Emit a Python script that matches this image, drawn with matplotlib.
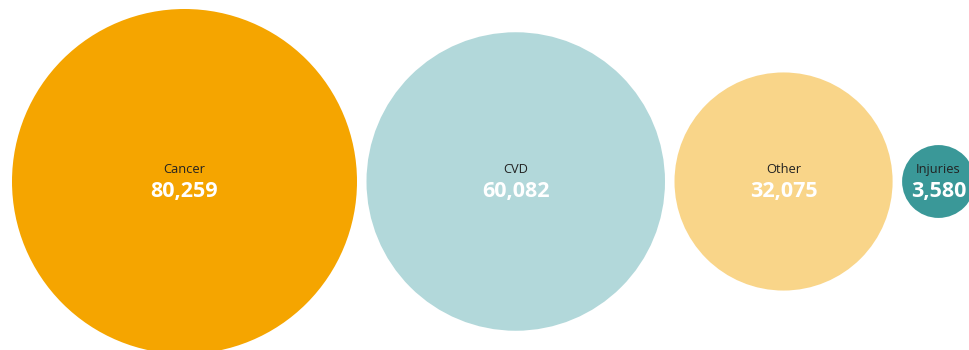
import matplotlib.pyplot as plt
from matplotlib.patches import Circle
import numpy as np

categories = ["Cancer", "CVD", "Other", "Injuries"]
values = [80259, 60082, 32075, 3580]
colors = ["#F5A500", "#B2D8DA", "#F9D589", "#3A9898"]

plt.rcParams['font.family'] = ['Open Sans', 'DejaVu Sans']

fig = plt.figure(figsize=(9.7, 3.5), dpi=100)
ax = fig.add_axes([0, 0, 1, 1])
ax.set_xlim(0, 970)
ax.set_ylim(350, 0)
ax.set_aspect('equal')
ax.axis('off')

# circle area proportional to value
max_r = 172.5
radii = max_r * np.sqrt(np.array(values) / max(values))
gap = 9.5
cy = 181.5
x = 12
for name, val, r, c in zip(categories, values, radii, colors):
    cx = x + r
    ax.add_patch(Circle((cx, cy), r, facecolor=c, edgecolor='none'))
    ax.text(cx, cy - 12, name, ha='center', va='center', fontsize=9.3, color='#222222')
    ax.text(cx, cy + 10, f"{val:,}", ha='center', va='center', fontsize=15.5,
            fontweight='bold', color='white')
    x = cx + r + gap

fig.savefig("out.png", dpi=100, facecolor='white')
